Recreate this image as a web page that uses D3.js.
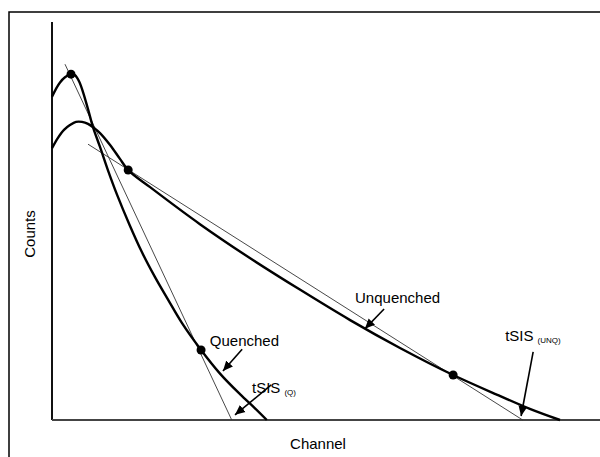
<!DOCTYPE html>
<html>
<head>
<meta charset="utf-8">
<script src="https://cdn.jsdelivr.net/npm/d3@7"></script>
<style>
  body { margin: 0; background: #fff; }
  text { font-family: "Liberation Sans", Arial, Helvetica, sans-serif; fill: #000; }
</style>
</head>
<body>
<svg id="chart"></svg>
<script>
// Quench curves: counts vs channel, with tSIS lines through the marked points

const quenched = [
  [0, 81.2], [0.73, 83.2], [1.46, 84.8], [2.37, 86.1], [3.47, 86.9], [4.2, 86.6],
  [4.93, 85.1], [5.66, 82.4], [6.57, 78.1], [7.48, 73.6], [8.76, 68.6], [10.2, 62.8],
  [11.9, 56.5], [14.1, 49.2], [16.4, 42.2], [18.8, 35.9], [21.2, 30.2], [23.7, 24.4],
  [27.2, 17.6], [30.7, 11.6], [34.3, 6.5], [37.0, 3.0], [39.2, 0]
];

const unquenched = [
  [0, 68.3], [1.09, 70.9], [2.19, 72.9], [3.28, 74.1], [4.38, 74.9], [5.47, 74.9],
  [6.57, 74.4], [7.66, 73.4], [8.76, 72.1], [10.6, 69.1], [12.4, 65.6], [13.9, 62.8],
  [17.9, 58.5], [27.0, 49.2], [36.1, 40.7], [45.3, 32.7], [54.4, 25.1], [63.5, 18.1],
  [73.2, 11.3], [81.8, 6.0], [87.2, 2.8], [92.7, 0]
];

const markedPoints = [[3.47, 86.9], [27.2, 17.6], [13.9, 62.8], [73.2, 11.3]];

const tsisLines = [
  [[2.37, 89.4], [32.8, 0]],
  [[6.57, 69.3], [85.9, 0]]
];

const labels = [
  { text: "Unquenched", x: 55.3, y: 29.4 },
  { text: "Quenched", x: 28.8, y: 18.6 },
  { text: "tSIS", sub: "(Q)", x: 36.5, y: 6.8 },
  { text: "tSIS", sub: "(UNQ)", x: 82.7, y: 19.8 }
];

const arrows = [
  [[60.6, 27.9], [57.1, 22.9]],
  [[34.7, 17.8], [31.2, 12.3]],
  [[40.0, 8.8], [33.4, 1.3]],
  [[87.8, 17.1], [85.6, 1.0]]
];

const width = 600, height = 457;

const svg = d3.select("#chart")
    .attr("width", width)
    .attr("height", height);

// outer frame (runs off the right and bottom edges)
svg.append("rect")
    .attr("x", 9).attr("y", 12)
    .attr("width", 640).attr("height", 500)
    .attr("fill", "none")
    .attr("stroke", "#000")
    .attr("stroke-width", 1.5);

const x = d3.scaleLinear().domain([0, 100]).range([52, 600]);
const y = d3.scaleLinear().domain([0, 100]).range([420, 22]);

// axes as plain lines, no ticks
svg.append("line")
    .attr("x1", x(0)).attr("x2", x(0))
    .attr("y1", y(100)).attr("y2", y(0))
    .attr("stroke", "#111").attr("stroke-width", 2);
svg.append("line")
    .attr("x1", x(0)).attr("x2", x(100))
    .attr("y1", y(0)).attr("y2", y(0))
    .attr("stroke", "#444").attr("stroke-width", 2);

const line = d3.line()
    .x(d => x(d[0]))
    .y(d => y(d[1]))
    .curve(d3.curveCatmullRom.alpha(0.5));

svg.selectAll("line.tsis")
    .data(tsisLines)
    .enter().append("line")
    .attr("class", "tsis")
    .attr("x1", d => x(d[0][0])).attr("y1", d => y(d[0][1]))
    .attr("x2", d => x(d[1][0])).attr("y2", d => y(d[1][1]))
    .attr("stroke", "#333")
    .attr("stroke-width", 0.9);

svg.selectAll("path.curve")
    .data([quenched, unquenched])
    .enter().append("path")
    .attr("class", "curve")
    .attr("d", line)
    .attr("fill", "none")
    .attr("stroke", "#000")
    .attr("stroke-width", 2.4);

svg.selectAll("circle")
    .data(markedPoints)
    .enter().append("circle")
    .attr("cx", d => x(d[0]))
    .attr("cy", d => y(d[1]))
    .attr("r", 4.5)
    .attr("fill", "#000");

// arrow heads
svg.append("defs").append("marker")
    .attr("id", "head")
    .attr("viewBox", "0 0 10 10")
    .attr("refX", 10).attr("refY", 5)
    .attr("markerWidth", 10).attr("markerHeight", 10)
    .attr("markerUnits", "userSpaceOnUse")
    .attr("orient", "auto")
    .append("path")
    .attr("d", "M0,0.5 L10,5 L0,9.5 Z")
    .attr("fill", "#000");

svg.selectAll("line.arrow")
    .data(arrows)
    .enter().append("line")
    .attr("class", "arrow")
    .attr("x1", d => x(d[0][0])).attr("y1", d => y(d[0][1]))
    .attr("x2", d => x(d[1][0])).attr("y2", d => y(d[1][1]))
    .attr("stroke", "#000")
    .attr("stroke-width", 1.6)
    .attr("marker-end", "url(#head)");

const lab = svg.selectAll("text.lab")
    .data(labels)
    .enter().append("text")
    .attr("class", "lab")
    .attr("x", d => x(d.x))
    .attr("y", d => y(d.y))
    .style("font-size", "15px")
    .text(d => d.text);

lab.filter(d => d.sub)
    .append("tspan")
    .attr("dx", 4).attr("dy", 2)
    .style("font-size", "8px")
    .text(d => d.sub);

svg.append("text")
    .attr("x", 318).attr("y", 449)
    .attr("text-anchor", "middle")
    .style("font-size", "15px")
    .text("Channel");

svg.append("text")
    .attr("transform", "translate(35,234) rotate(-90)")
    .attr("text-anchor", "middle")
    .style("font-size", "15px")
    .text("Counts");
</script>
</body>
</html>
